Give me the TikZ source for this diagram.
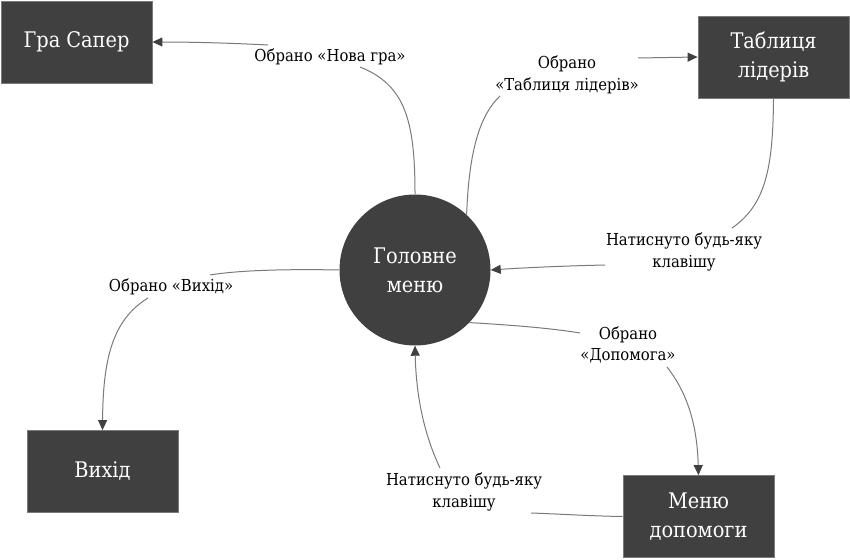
\documentclass[tikz,border=0pt]{standalone}
\usepackage{fontspec}
\setmainfont{DejaVu Serif Condensed}
\usetikzlibrary{arrows.meta}
\definecolor{boxfill}{HTML}{404040}
\definecolor{edgecol}{HTML}{7A7A7A}
\tikzset{
  box/.style={fill=boxfill, draw=edgecol, line width=0.8pt, minimum width=151pt, minimum height=82pt, inner sep=0pt, align=center, text=white, font=\rmfamily\fontsize{21.5}{29}\selectfont},
  circ/.style={circle, fill=boxfill, minimum size=151pt, inner sep=0pt, align=center, text=white, font=\rmfamily\fontsize{21.5}{29}\selectfont},
  lbl/.style={align=center, inner sep=0pt, font=\rmfamily\fontsize{16.5}{21.5}\selectfont},
  edge/.style={draw=edgecol, line width=1pt},
  arr/.style={edge, -{Triangle[length=10pt,width=9pt,fill=boxfill,color=boxfill]}}
}
\begin{document}
\begin{tikzpicture}[x=1pt,y=-1pt]
\useasboundingbox (0,0) rectangle (850,559);
% nodes
\node[box] (gra) at (76.5,42) {Гра Сапер};
\node[box] (tab) at (773.5,57) {Таблиця\\лідерів};
\node[box] (vyh) at (102.5,471.5) {Вихід};
\node[box] (dop) at (698.5,516.5) {Меню\\допомоги};
\node[circ] (main) at (415,270) {Головне\\меню};
% labels
\node[lbl] (l1) at (330,57) {Обрано «Нова гра»};
\node[lbl] (l2) at (567,75) {Обрано\\«Таблиця лідерів»};
\node[lbl] (l3) at (684,252) {Натиснуто будь-яку\\клавішу};
\node[lbl] (l4) at (171,287) {Обрано «Вихід»};
\node[lbl] (l5) at (628,345) {Обрано\\«Допомога»};
\node[lbl] (l6) at (464,492) {Натиснуто будь-яку\\клавішу};
% free ends of connectors near labels
\coordinate (c1a) at (360,67);
\coordinate (c1b) at (268,45);
\coordinate (c2a) at (500,96);
\coordinate (c2b) at (638,58);
\coordinate (c3a) at (732,228);
\coordinate (c3b) at (605,265);
\coordinate (c4a) at (210,275);
\coordinate (c4b) at (148,298);
\coordinate (c5a) at (580,333);
\coordinate (c5b) at (667,367);
\coordinate (c6a) at (531,513);
\coordinate (c6b) at (440,468);
% connectors
\draw[edge] (main.north) .. controls (415,120) and (405,85) .. (c1a);
\draw[arr] (c1b) .. controls (230,43) and (190,42) .. (gra.east);
\draw[edge] (main.47) .. controls (469,150) and (480,115) .. (c2a);
\draw[arr] (c2b) -- (tab.west);
\draw[edge] (tab.south) .. controls (773,170) and (765,205) .. (c3a);
\draw[arr] (c3b) .. controls (560,266) and (520,268) .. (main.east);
\draw[edge] (main.west) .. controls (290,269) and (240,270) .. (c4a);
\draw[arr] (c4b) .. controls (112,320) and (103,360) .. (vyh.north);
\draw[edge] (main.-44) .. controls (510,325) and (550,328) .. (c5a);
\draw[arr] (c5b) .. controls (685,390) and (697,420) .. (dop.north);
\draw[edge] (dop.west) .. controls (590,516) and (560,514) .. (c6a);
\draw[arr] (c6b) .. controls (422,430) and (416,390) .. (main.south);
\end{tikzpicture}
\end{document}
